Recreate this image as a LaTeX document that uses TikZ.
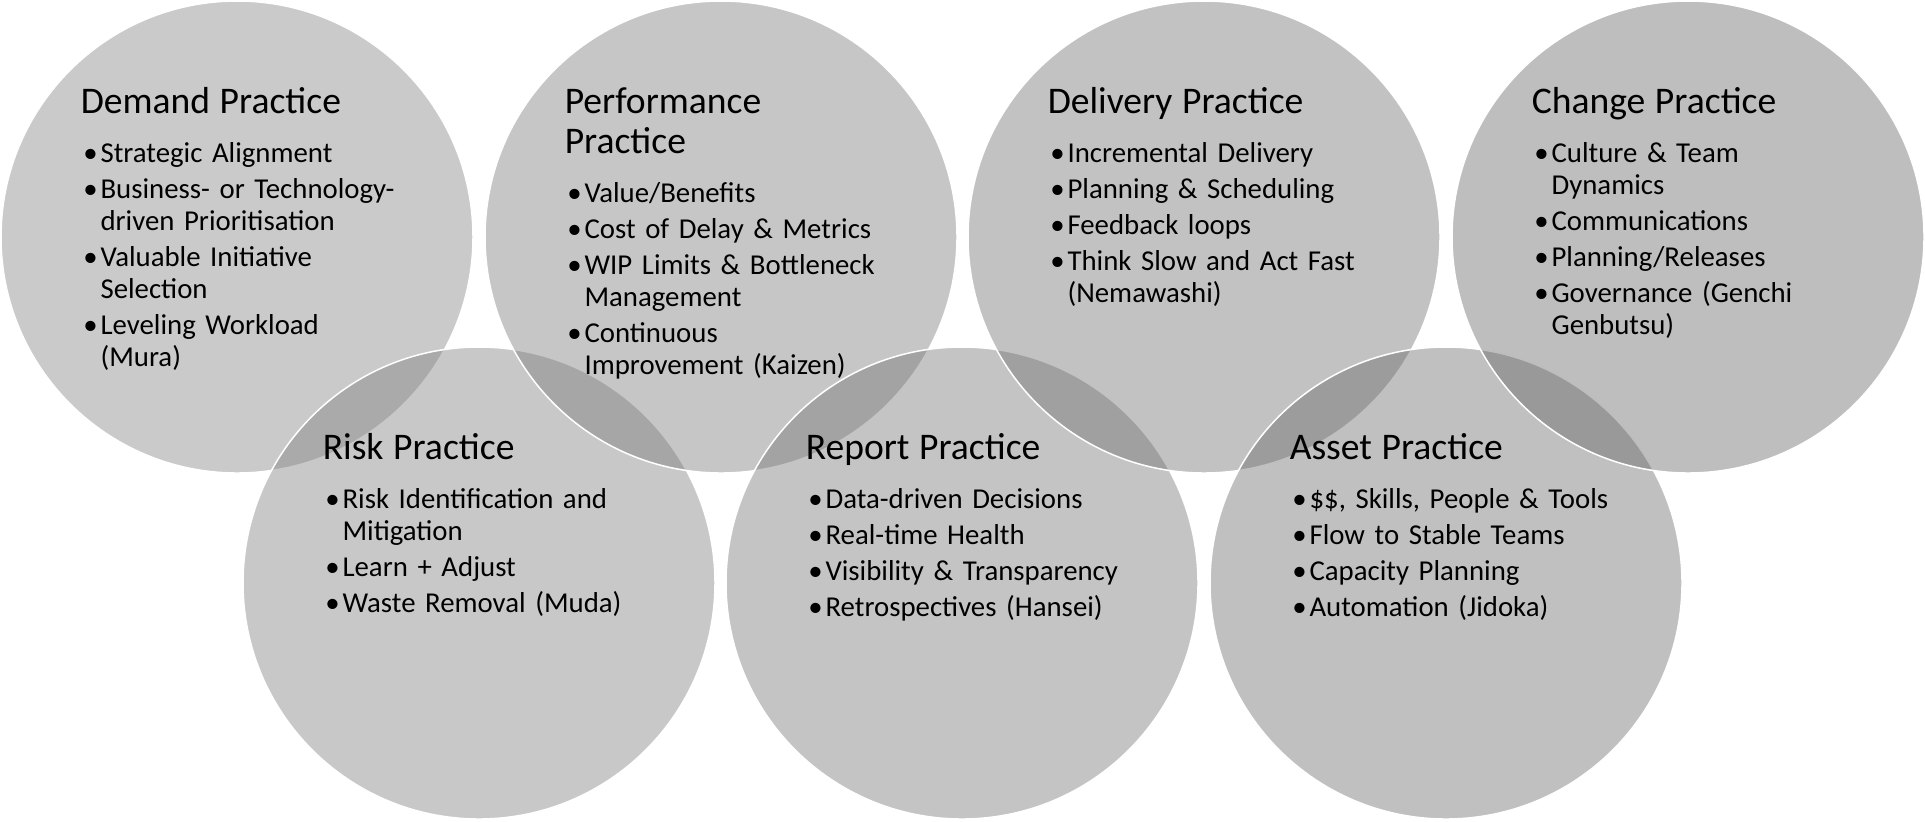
\documentclass[tikz,border=0pt]{standalone}
\usepackage{fontspec}
\setmainfont{Carlito}

\newlength\bulletgap
\setlength\bulletgap{9.9pt}
\newcommand\practicehead[1]{{\fontsize{18.8pt}{20.3pt}\selectfont #1\par}\vspace{6.5pt}}
\newcommand\practiceitem[1]{\hangindent=\bulletgap\hangafter=1\noindent\makebox[\bulletgap][l]{\hspace{1.3pt}\textbullet}#1\par}

\begin{document}
\begin{tikzpicture}[x=0.5pt, y=-0.5pt, line width=0.75pt,
  ring/.style={circle, draw=white, minimum size=236pt, inner sep=0pt, fill opacity=0.42},
  practice/.style={anchor=base west, inner sep=0pt, text width=200pt,
    font=\fontsize{14.4pt}{16pt}\selectfont,
    execute at begin node=\raggedright\setlength\parskip{2pt}}]
  \useasboundingbox (0,0) rectangle (1925,821);
  % circles, left to right, each one over the last
  \node[ring, fill=black!50] (demand) at (237,237) {};
  \node[ring, fill=black!51] (risk) at (479,583) {};
  \node[ring, fill=black!53] (perf) at (721,237) {};
  \node[ring, fill=black!55] (report) at (962,583) {};
  \node[ring, fill=black!57] (delivery) at (1204,237) {};
  \node[ring, fill=black!59] (asset) at (1446,583) {};
  \node[ring, fill=black!61] (change) at (1688,237) {};
  % texts
  \node[practice] (demandtext) at ([shift={(-157,-124)}]demand.center) {\practicehead{Demand Practice}
    \practiceitem{Strategic Alignment}
    \practiceitem{Business- or Technology-\newline driven Prioritisation}
    \practiceitem{Valuable Initiative\newline Selection}
    \practiceitem{Leveling Workload\newline (Mura)}};
  \node[practice] (perftext) at ([shift={(-157,-124)}]perf.center) {\practicehead{Performance\\Practice}
    \practiceitem{Value/Benefits}
    \practiceitem{Cost of Delay \& Metrics}
    \practiceitem{WIP Limits \& Bottleneck\newline Management}
    \practiceitem{Continuous\newline Improvement (Kaizen)}};
  \node[practice] (deliverytext) at ([shift={(-157,-124)}]delivery.center) {\practicehead{Delivery Practice}
    \practiceitem{Incremental Delivery}
    \practiceitem{Planning \& Scheduling}
    \practiceitem{Feedback loops}
    \practiceitem{Think Slow and Act Fast\newline (Nemawashi)}};
  \node[practice] (changetext) at ([shift={(-157,-124)}]change.center) {\practicehead{Change Practice}
    \practiceitem{Culture \& Team\newline Dynamics}
    \practiceitem{Communications}
    \practiceitem{Planning/Releases}
    \practiceitem{Governance (Genchi\newline Genbutsu)}};
  \node[practice] (risktext) at ([shift={(-157,-124)}]risk.center) {\practicehead{Risk Practice}
    \practiceitem{Risk Identification and\newline Mitigation}
    \practiceitem{Learn + Adjust}
    \practiceitem{Waste Removal (Muda)}};
  \node[practice] (reporttext) at ([shift={(-157,-124)}]report.center) {\practicehead{Report Practice}
    \practiceitem{Data-driven Decisions}
    \practiceitem{Real-time Health}
    \practiceitem{Visibility \& Transparency}
    \practiceitem{Retrospectives (Hansei)}};
  \node[practice] (assettext) at ([shift={(-157,-124)}]asset.center) {\practicehead{Asset Practice}
    \practiceitem{\$\$, Skills, People \& Tools}
    \practiceitem{Flow to Stable Teams}
    \practiceitem{Capacity Planning}
    \practiceitem{Automation (Jidoka)}};
\end{tikzpicture}
\end{document}
